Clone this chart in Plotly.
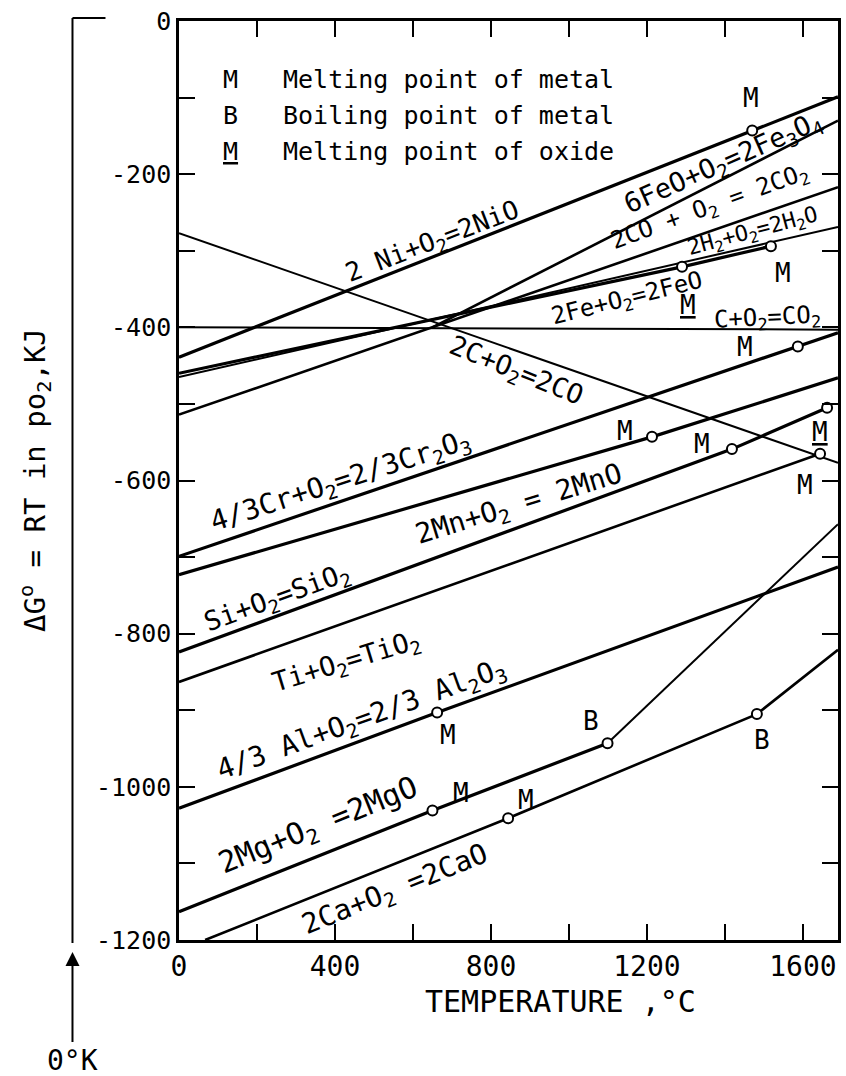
import plotly.graph_objects as go

# ---------------- data (T in deg C, dG in kJ) ----------------
NI_T = [0, 1470, 1690];            NI_G = [-439, -143, -99]
FE3O4_T = [650, 1690];             FE3O4_G = [-400, -130]
CO2_T = [0, 1690];                 CO2_G = [-514, -217]
H2O_T = [0, 1690];                 H2O_G = [-465, -269]
FEO_T = [0, 1290, 1518];           FEO_G = [-460, -321, -294]
C_CO2_T = [0, 1690];               C_CO2_G = [-400, -403]
C_CO_T = [0, 1690];                C_CO_G = [-277, -577]
CR_T = [0, 1587, 1690];            CR_G = [-699, -425, -407]
MN_T = [0, 1213, 1690];            MN_G = [-723, -543, -466]
SI_T = [0, 1418, 1662];            SI_G = [-824, -559, -505]
TI_T = [0, 1644];                  TI_G = [-863, -565]
AL_T = [0, 662, 1690];             AL_G = [-1028, -903, -713]
MG_T = [0, 650, 1099, 1690];       MG_G = [-1163, -1031, -943, -657]
CA_T = [67, 844, 1482, 1690];      CA_G = [-1200, -1041, -905, -821]

# indices of transition points (drawn as small circles)
NI_PTS = [1]; FEO_PTS = [1, 2]; CR_PTS = [1]; MN_PTS = [1]; SI_PTS = [1, 2]
TI_PTS = [1]; AL_PTS = [1]; MG_PTS = [1, 2]; CA_PTS = [1, 2]

X_TICKS = list(range(0, 1601, 200))
X_LABELED = [0, 400, 800, 1200, 1600]
Y_TICKS = list(range(-1200, 1, 100))
Y_LABELED = [0, -200, -400, -600, -800, -1000, -1200]
X_RANGE = [0, 1690]
Y_RANGE = [-1200, 0]
ZERO_K = -273.15

LEGEND_KEYS = ["M", "B", "<u>M</u>"]
LEGEND_TEXTS = ["Melting point of metal", "Boiling point of metal", "Melting point of oxide"]

LINE_LABELS = [
    ("2 Ni+O<sub>2</sub>=2NiO", 649, -289, -21, 26),
    ("6FeO+O<sub>2</sub>=2Fe<sub>3</sub>O<sub>4</sub>", 1397, -186, -24, 27),
    ("2CO + O<sub>2</sub> = 2CO<sub>2</sub>", 1362, -244, -20, 24),
    ("2H<sub>2</sub>+O<sub>2</sub>=2H<sub>2</sub>O", 1472, -276, -15, 22),
    ("2Fe+O<sub>2</sub>=2FeO", 1149, -364, -14, 24),
    ("C+O<sub>2</sub>=CO<sub>2</sub>", 1510, -388, -3, 24),
    ("2C+O<sub>2</sub>=2CO", 862, -458, 22, 27),
    ("4/3Cr+O<sub>2</sub>=2/3Cr<sub>2</sub>O<sub>3</sub>", 413, -602, -18, 28),
    ("2Mn+O<sub>2</sub> = 2MnO", 872, -632, -17, 28),
    ("Si+O<sub>2</sub>=SiO<sub>2</sub>", 253, -754, -20, 27),
    ("Ti+O<sub>2</sub>=TiO<sub>2</sub>", 430, -837, -17, 27),
    ("4/3 Al+O<sub>2</sub>=2/3 Al<sub>2</sub>O<sub>3</sub>", 469, -913, -20, 28),
    ("2Mg+O<sub>2</sub> =2MgO", 357, -1052, -22, 30),
    ("2Ca+O<sub>2</sub> =2CaO", 556, -1136, -22, 28),
]

POINT_LABELS = [
    ("M", 1467, -101), ("<u>M</u>", 1305, -371), ("M", 1549, -329),
    ("M", 1451, -426), ("M", 1144, -535), ("M", 1341, -552),
    ("<u>M</u>", 1644, -537), ("M", 1605, -606), ("M", 690, -932),
    ("M", 723, -1008), ("B", 1056, -914), ("M", 890, -1017), ("B", 1494, -939),
]

# ---------------- styling ----------------
FONT = "DejaVu Sans Mono"
W, H = 846, 1076
ML, MR, MT, MB = 179, 8, 21, 136
PW, PH = W - ML - MR, H - MT - MB
THICK, THIN = 3.2, 2.0

# (T, G, width, transition indices, index from which line becomes thin)
SERIES = [
    (NI_T, NI_G, THICK, NI_PTS, None),
    (FE3O4_T, FE3O4_G, 2.6, [], None),
    (CO2_T, CO2_G, 2.6, [], None),
    (H2O_T, H2O_G, THIN, [], None),
    (FEO_T, FEO_G, THICK, FEO_PTS, None),
    (C_CO2_T, C_CO2_G, THIN, [], None),
    (C_CO_T, C_CO_G, THIN, [], None),
    (CR_T, CR_G, THICK, CR_PTS, None),
    (MN_T, MN_G, THICK, MN_PTS, None),
    (SI_T, SI_G, THICK, SI_PTS, None),
    (TI_T, TI_G, 2.6, TI_PTS, None),
    (AL_T, AL_G, THICK, AL_PTS, None),
    (MG_T, MG_G, THICK, MG_PTS, 2),
    (CA_T, CA_G, 2.6, CA_PTS, None),
]


def px_x(px):
    return (px - ML) / PW


def px_y(py):
    return (H - MB - py) / PH


fig = go.Figure()

pts_x, pts_y = [], []
for T, G, w, pts, thin_from in SERIES:
    if thin_from is None:
        fig.add_trace(go.Scatter(x=T, y=G, mode="lines",
                                 line=dict(color="black", width=w), hoverinfo="skip"))
    else:
        fig.add_trace(go.Scatter(x=T[:thin_from + 1], y=G[:thin_from + 1], mode="lines",
                                 line=dict(color="black", width=w), hoverinfo="skip"))
        fig.add_trace(go.Scatter(x=T[thin_from:], y=G[thin_from:], mode="lines",
                                 line=dict(color="black", width=THIN), hoverinfo="skip"))
    for i in pts:
        pts_x.append(T[i])
        pts_y.append(G[i])

fig.add_trace(go.Scatter(x=pts_x, y=pts_y, mode="markers",
                         marker=dict(symbol="circle", size=10, color="white",
                                     line=dict(color="black", width=2)),
                         hoverinfo="skip", cliponaxis=False))

ann = []
for text, t, g, ang, size in LINE_LABELS:
    ann.append(dict(x=t, y=g, xref="x", yref="y", text=text, showarrow=False,
                    textangle=ang, xanchor="center", yanchor="middle",
                    font=dict(family=FONT, size=size, color="black")))
for text, t, g in POINT_LABELS:
    ann.append(dict(x=t, y=g, xref="x", yref="y", text=text, showarrow=False,
                    xanchor="center", yanchor="middle",
                    font=dict(family=FONT, size=26, color="black")))

# legend block (data coordinates)
LEG_KEY_T, LEG_TXT_T = 131, 262
LEG_G = [-76, -123, -171]
for key, txt, g in zip(LEGEND_KEYS, LEGEND_TEXTS, LEG_G):
    ann.append(dict(x=LEG_KEY_T, y=g, xref="x", yref="y", text=key, showarrow=False,
                    xanchor="center", yanchor="middle",
                    font=dict(family=FONT, size=25, color="black")))
    ann.append(dict(x=LEG_TXT_T, y=g, xref="x", yref="y", text=txt, showarrow=False,
                    xanchor="left", yanchor="middle",
                    font=dict(family=FONT, size=25, color="black")))

# axis titles
ann.append(dict(x=px_x(35), y=px_y(480), xref="paper", yref="paper",
                xanchor="center", yanchor="middle",
                text="\u0394G<sup>o</sup> = RT in po<sub>2</sub>,KJ", showarrow=False,
                textangle=-90, font=dict(family=FONT, size=29, color="black")))
ann.append(dict(x=px_x(560), y=px_y(1001), xref="paper", yref="paper",
                xanchor="center", yanchor="middle",
                text="TEMPERATURE ,\u00b0C", showarrow=False,
                font=dict(family=FONT, size=30, color="black")))

# 0 K reference
zk = (ZERO_K - X_RANGE[0]) / (X_RANGE[1] - X_RANGE[0])
ann.append(dict(x=zk, y=px_y(952), xref="paper", yref="paper", text="0\u00b0K",
                showarrow=True, ax=0, ay=108, arrowhead=2, arrowsize=1.4, arrowwidth=2,
                arrowcolor="black", font=dict(family=FONT, size=28, color="black")))

shapes = [
    dict(type="line", xref="paper", yref="paper", x0=zk, x1=zk,
         y0=px_y(943), y1=px_y(18), line=dict(color="black", width=2)),
    dict(type="line", xref="paper", yref="paper", x0=zk, x1=zk + 33 / PW,
         y0=px_y(18), y1=px_y(18), line=dict(color="black", width=2)),
]

axis_common = dict(ticks="inside", ticklen=16, tickwidth=2, tickcolor="black",
                   showline=True, linewidth=2.5, linecolor="black", mirror="ticks",
                   showgrid=False, zeroline=False)

fig.update_layout(
    width=W, height=H,
    margin=dict(l=ML, r=MR, t=MT, b=MB, autoexpand=False),
    paper_bgcolor="white", plot_bgcolor="white",
    showlegend=False,
    annotations=ann, shapes=shapes,
    xaxis=dict(range=X_RANGE, tickvals=X_TICKS,
               ticktext=[str(v) if v in X_LABELED else "" for v in X_TICKS],
               tickfont=dict(family=FONT, size=28, color="black"), **axis_common),
    yaxis=dict(range=Y_RANGE, tickvals=Y_TICKS,
               ticktext=[str(v) if v in Y_LABELED else "" for v in Y_TICKS],
               tickfont=dict(family=FONT, size=25, color="black"), **axis_common),
)

fig.write_html("out.html")
